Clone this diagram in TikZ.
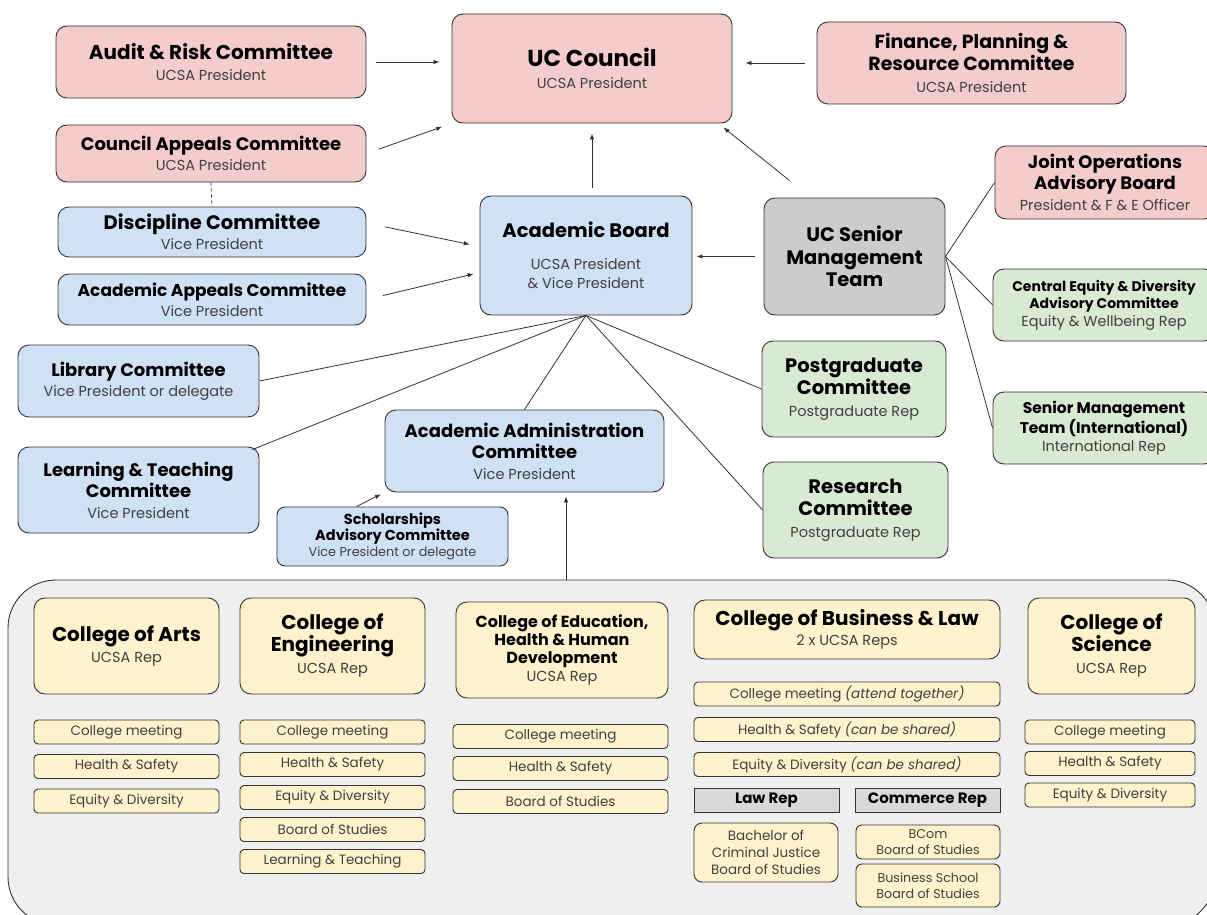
\documentclass[tikz,border=0pt]{standalone}
\usepackage{fontspec}
\setmainfont{Poppins}
\usepackage{xcolor}
\usepackage{tikz}
\usetikzlibrary{arrows.meta}

\definecolor{edge}{HTML}{333333}
\definecolor{subtext}{HTML}{404040}
\definecolor{pinkfill}{HTML}{F4CCCC}
\definecolor{bluefill}{HTML}{CFE2F3}
\definecolor{greenfill}{HTML}{D9EAD3}
\definecolor{greyfill}{HTML}{CCCCCC}
\definecolor{yellowfill}{HTML}{FFF2CC}
\definecolor{panelfill}{HTML}{EFEFEF}
\definecolor{repfill}{HTML}{D9D9D9}

\newcommand\tfont[2]{\fontsize{#1}{#2}\selectfont\bfseries}
\newcommand\sub[1]{{\mdseries\fontsize{14.5}{17}\selectfont\color{subtext}#1}}
\newcommand\subs[1]{{\mdseries\fontsize{12.8}{15}\selectfont\color{subtext}#1}}

\begin{document}
\begin{tikzpicture}[x=1pt,y=-1pt,>={Latex[length=6pt,width=4.5pt]},
  link/.style={draw=edge,line width=0.8pt},
  box/.style={draw=edge,line width=0.9pt,rounded corners=11pt,align=center,inner sep=2pt,font=\tfont{18}{22}},
  wh/.style 2 args={minimum width=#1,minimum height=#2},
  pinkbox/.style={box,fill=pinkfill},
  bluebox/.style={box,fill=bluefill},
  greenbox/.style={box,fill=greenfill},
  greybox/.style={box,fill=greyfill},
  yellowbox/.style={box,fill=yellowfill},
  slot/.style={box,rounded corners=4pt,fill=yellowfill,minimum height=24,font=\fontsize{13.5}{17}\selectfont\color{subtext}},
  repbar/.style={draw=edge,line width=0.9pt,fill=repfill,minimum height=24,inner sep=0pt,font=\tfont{15}{17}},
  panel/.style={draw=edge,line width=0.9pt,fill=panelfill,rounded corners=48pt}]
\useasboundingbox (0,0) rectangle (1207,915);
\clip (0,0) rectangle (1207,915);
\fill[white] (0,0) rectangle (1207,915);

% top row
\node[pinkbox,wh={310}{72},font=\tfont{20}{21}] (audit) at (211,62) {Audit \& Risk Committee\\\sub{UCSA President}};
\node[pinkbox,wh={280}{109},font=\tfont{23}{22}] (ucc) at (592,68.5) {UC Council\\\sub{UCSA President}};
\node[pinkbox,wh={309}{82},font=\tfont{19}{22}] (fin) at (971.5,63) {Finance, Planning \&\\Resource Committee\\\sub{UCSA President}};
\node[pinkbox,wh={310}{57},font=\tfont{18}{20}] (cap) at (211,153.5) {Council Appeals Committee\\\sub{UCSA President}};

% academic board and friends
\node[bluebox,wh={308}{50},font=\tfont{19.5}{20}] (disc) at (212,232) {Discipline Committee\\\sub{Vice President}};
\node[bluebox,wh={308}{51},font=\tfont{17}{20}] (aac) at (212,299.5) {Academic Appeals Committee\\\sub{Vice President}};
\node[bluebox,wh={212}{119},font=\tfont{19.5}{19}] (ab) at (586,255.5) {Academic Board\\[13pt]\sub{UCSA President}\\\sub{\& Vice President}};
\node[greybox,wh={181}{117},font=\tfont{19.5}{22.5}] (smt) at (854.5,256.5) {UC Senior\\Management\\Team};

% senior management side
\node[pinkbox,wh={220}{73},font=\tfont{18}{21}] (jo) at (1105,182.5) {Joint Operations\\Advisory Board\\\sub{President \& F \& E Officer}};
\node[greenbox,wh={222}{72},font=\tfont{14}{17.5}] (ce) at (1104,305) {Central Equity \& Diversity\\Advisory Committee\\\sub{Equity \& Wellbeing Rep}};
\node[greenbox,wh={222}{72},font=\tfont{15.5}{18}] (smi) at (1104,428) {Senior Management\\Team (International)\\\sub{International Rep}};

% under the academic board
\node[bluebox,wh={241}{72},font=\tfont{18}{20}] (lib) at (138.5,381) {Library Committee\\\sub{Vice President or delegate}};
\node[bluebox,wh={241}{86},font=\tfont{18}{21}] (lt) at (138.5,490) {Learning \& Teaching\\Committee\\\sub{Vice President}};
\node[bluebox,wh={279}{82},font=\tfont{18}{21}] (admin) at (524.5,451) {Academic Administration\\Committee\\\sub{Vice President}};
\node[greenbox,wh={184}{96},font=\tfont{19.5}{22}] (pg) at (854,389) {Postgraduate\\Committee\\\sub{Postgraduate Rep}};
\node[greenbox,wh={185}{96},font=\tfont{19.5}{22}] (rc) at (855.5,510) {Research\\Committee\\\sub{Postgraduate Rep}};
\node[bluebox,wh={231}{59},rounded corners=8pt,font=\tfont{14.5}{16}] (sch) at (392.5,536.5) {Scholarships\\Advisory Committee\\\subs{Vice President or delegate}};

% colleges
\node[panel,wh={1207}{345}] (colleges) at (611.5,752.5) {};
\node[yellowbox,wh={185}{96},font=\tfont{20}{21}] (arts) at (126.5,646) {College of Arts\\\sub{UCSA Rep}};
\node[yellowbox,wh={185}{96},font=\tfont{20}{22}] (eng) at (332.5,646) {College of\\Engineering\\\sub{UCSA Rep}};
\node[yellowbox,wh={212}{96},font=\tfont{16}{18}] (edu) at (562,650) {College of Education,\\Health \& Human\\Development\\\sub{UCSA Rep}};
\node[yellowbox,wh={306}{59},font=\tfont{20}{20}] (bus) at (847,629.5) {College of Business \& Law\\\sub{2 x UCSA Reps}};
\node[yellowbox,wh={167}{96},font=\tfont{20}{22}] (sci) at (1111.5,646) {College of\\Science\\\sub{UCSA Rep}};

\node[slot,minimum width=185] (arts1) at (126.5,732) {College meeting};
\node[slot,minimum width=185] (arts2) at (126.5,766.5) {Health \& Safety};
\node[slot,minimum width=185] (arts3) at (126.5,801) {Equity \& Diversity};

\node[slot,minimum width=185] (eng1) at (332.5,732) {College meeting};
\node[slot,minimum width=185] (eng2) at (332.5,764.5) {Health \& Safety};
\node[slot,minimum width=185] (eng3) at (332.5,797.5) {Equity \& Diversity};
\node[slot,minimum width=185] (eng4) at (332.5,829.5) {Board of Studies};
\node[slot,minimum width=185] (eng5) at (332.5,861.5) {Learning \& Teaching};

\node[slot,minimum width=215] (edu1) at (560.5,736.5) {College meeting};
\node[slot,minimum width=215] (edu2) at (560.5,768.5) {Health \& Safety};
\node[slot,minimum width=215] (edu3) at (560.5,801.5) {Board of Studies};

\node[slot,minimum width=306] (bus1) at (847,694) {College meeting \textit{(attend together)}};
\node[slot,minimum width=306] (bus2) at (847,729.5) {Health \& Safety \textit{(can be shared)}};
\node[slot,minimum width=306] (bus3) at (847,764.5) {Equity \& Diversity \textit{(can be shared)}};
\node[repbar,minimum width=145] (law) at (766.5,800) {Law Rep};
\node[repbar,minimum width=145] (com) at (927.5,800) {Commerce Rep};
\node[slot,minimum width=144,minimum height=59,rounded corners=8pt,font=\fontsize{13.5}{17}\selectfont\color{subtext}] (bcj) at (766,852.5) {Bachelor of\\Criminal Justice\\Board of Studies};
\node[slot,minimum width=144,minimum height=34,rounded corners=6pt,font=\fontsize{12.7}{16}\selectfont\color{subtext}] (bcom) at (928,842) {BCom\\Board of Studies};
\node[slot,minimum width=144,minimum height=43,rounded corners=6pt,font=\fontsize{12.7}{16}\selectfont\color{subtext}] (bsch) at (928,885.5) {Business School\\Board of Studies};

\node[slot,minimum width=170] (sci1) at (1110,732) {College meeting};
\node[slot,minimum width=170] (sci2) at (1110,763.5) {Health \& Safety};
\node[slot,minimum width=170] (sci3) at (1110,795) {Equity \& Diversity};

% arrows into UC Council
\draw[link,->,shorten <=10pt,shorten >=12pt] (audit.east) -- (audit.east -| ucc.west);
\draw[link,->,shorten <=13pt,shorten >=10pt] (cap.east) -- (ucc.south west);
\draw[link,->,shorten <=12pt,shorten >=13pt] (fin.west) -- (fin.west -| ucc.east);
\draw[link,->,shorten <=8pt,shorten >=10pt] (ucc.south |- ab.north) -- (ucc.south);
\draw[link,->] ([xshift=26,yshift=17]smt.north west) -- ([xshift=-9,yshift=-4]ucc.south east);

% arrows into the academic board
\draw[link,->,shorten <=19pt,shorten >=10pt] ([yshift=9]disc.east) -- ([yshift=9]ab.west);
\draw[link,->,shorten <=17pt,shorten >=6pt] (aac.east) -- ([yshift=-17]ab.west);
\draw[link,->,shorten <=9pt,shorten >=4pt] (smt.west) -- (smt.west -| ab.east);
\draw[link,dashed] (cap.south) -- (disc.north);

% committees of the academic board
\draw[link] (ab.south) -- (lib.east);
\draw[link] (ab.south) -- ([xshift=-7,yshift=-3]lt.north east);
\draw[link] (ab.south) -- (admin.north);
\draw[link] (ab.south) -- (pg.west);
\draw[link] (ab.south) -- (rc.west);

% senior management links
\draw[link] (smt.east) -- (jo.west);
\draw[link] (smt.east) -- (ce.west);
\draw[link] (smt.east) -- (smi.west);

% into academic administration
\draw[link,->,shorten >=4pt] ([xshift=-36]sch.north) -- (admin.south west);
\coordinate (feed) at ([xshift=41.5]admin.south);
\draw[link,->,shorten >=4pt] (feed |- colleges.north) -- (feed);
\end{tikzpicture}
\end{document}
